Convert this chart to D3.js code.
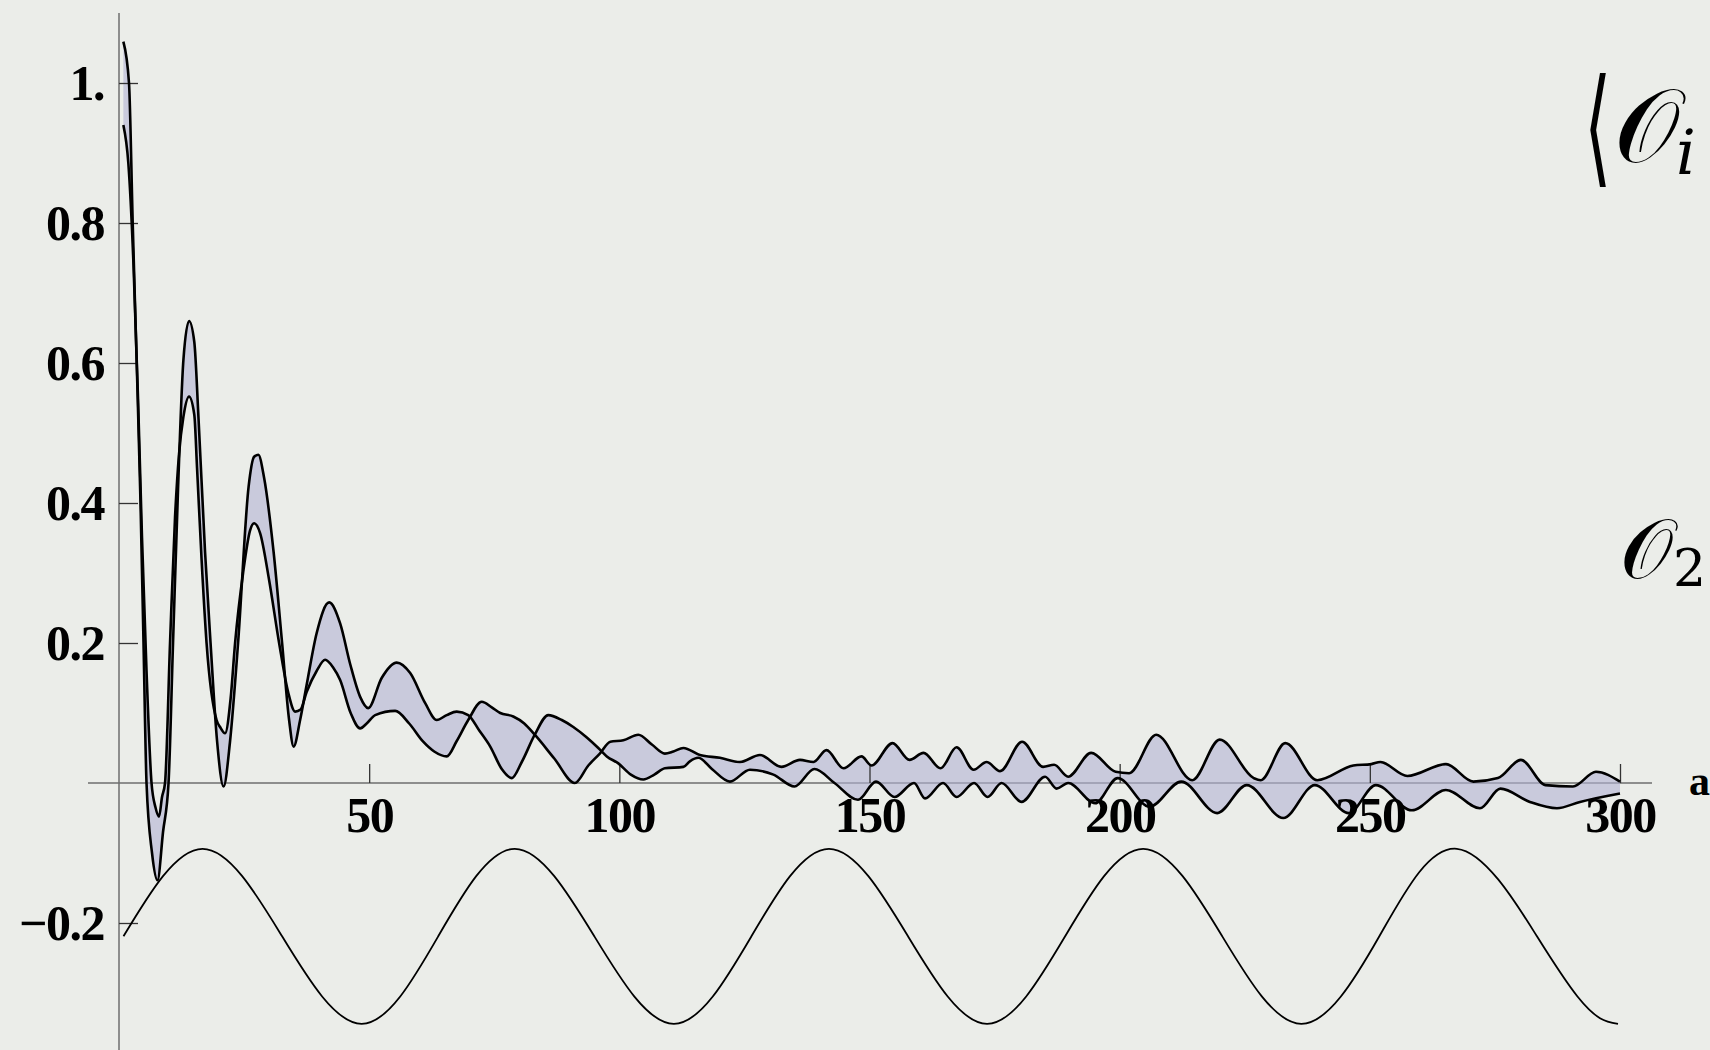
<!DOCTYPE html>
<html>
<head>
<meta charset="utf-8">
<script src="https://cdn.jsdelivr.net/npm/d3@7"></script>
<style>
  html, body { margin: 0; padding: 0; background: #ebede9; overflow: hidden; }
  svg { display: block; }
</style>
</head>
<body>
<script>
// Kurve A (äussere Kurve am Anfang)
var curveA = [[0.87, 1.059], [2.0, 1.0], [2.74, 0.80], [3.54, 0.6], [4.3, 0.40], [4.9, 0.2], [5.5, 0.0],
  [6.6, -0.10], [7.7, -0.139], [8.8, -0.07], [9.9, 0.0], [10.8, 0.2], [11.8, 0.42], [12.87, 0.604],
  [14.0, 0.66], [15.05, 0.63], [15.9, 0.52], [17.2, 0.33], [18.3, 0.2], [19.6, 0.06], [20.9, -0.005],
  [22.2, 0.06], [23.8, 0.2], [25.9, 0.423], [27.0, 0.466], [27.85, 0.469], [29.0, 0.436], [30.9, 0.33],
  [32.6, 0.2], [34.0, 0.09], [34.9, 0.052], [36.2, 0.09], [37.5, 0.14], [39.5, 0.214], [42.0, 0.258],
  [44.2, 0.228], [46.2, 0.17], [48.2, 0.123], [49.8, 0.107], [52.5, 0.15], [55.5, 0.172], [58.2, 0.157],
  [61.2, 0.114], [63.5, 0.09], [65.5, 0.097], [67.5, 0.102], [69.8, 0.097], [72.0, 0.075], [74.2, 0.052],
  [76.5, 0.02], [78.5, 0.007], [80.5, 0.03], [83.1, 0.069], [85.8, 0.097], [88.5, 0.09], [90.8, 0.08],
  [93.5, 0.065], [95.8, 0.05], [97.5, 0.038], [99.8, 0.028], [102.3, 0.012], [104.8, 0.005], [107.0, 0.012],
  [109.1, 0.021], [112.8, 0.023], [114.1, 0.031], [115.8, 0.036], [118.5, 0.02], [122.1, 0.002],
  [126.1, 0.019], [130.8, 0.012], [135.0, -0.005], [139.0, 0.020], [143.0, 0.0], [147.7, -0.024],
  [151.3, 0.002], [155.0, -0.02], [158.9, 0.0], [161.1, -0.022], [164.7, 0.0], [167.4, -0.02],
  [170.9, 0.0], [173.6, -0.02], [176.4, 0.0], [180.4, -0.027], [185.1, 0.009], [187.4, -0.008],
  [189.7, 0.0], [195.1, -0.029], [199.6, 0.007], [206.0, -0.034], [212.3, 0.002], [219.5, -0.043],
  [225.4, -0.003], [232.7, -0.05], [239.0, -0.003], [245.8, -0.043], [251.2, -0.003], [258.4, -0.039],
  [265.2, -0.01], [272.0, -0.036], [276.1, -0.008], [282.0, -0.027], [287.4, -0.036], [292.0, -0.027],
  [300.0, -0.015]];

// Kurve B (innere Kurve am Anfang)
var curveB = [[0.87, 0.94], [1.87, 0.885], [2.9, 0.74], [3.8, 0.55], [4.6, 0.35], [5.5, 0.16], [6.5, 0.0],
  [7.3, -0.035], [8.0, -0.048], [8.6, -0.02], [9.2, 0.0], [10.2, 0.2], [11.2, 0.38], [12.0, 0.47],
  [12.87, 0.523], [14.0, 0.552], [15.05, 0.526], [15.6, 0.45], [16.5, 0.32], [17.5, 0.2], [19.5, 0.09],
  [20.2, 0.08], [21.2, 0.071], [22.3, 0.12], [23.2, 0.2], [24.8, 0.3], [26.2, 0.361], [27.0, 0.371],
  [28.2, 0.357], [30.0, 0.29], [32.0, 0.2], [33.8, 0.13], [35.2, 0.102], [36.3, 0.105], [37.5, 0.13],
  [39.5, 0.16], [41.2, 0.176], [42.8, 0.165], [44.2, 0.147], [46.3, 0.1], [48.2, 0.078], [49.5, 0.085],
  [51.2, 0.097], [55.2, 0.103], [58.0, 0.085], [60.8, 0.059], [63.0, 0.045], [65.5, 0.038], [67.5, 0.06],
  [69.8, 0.09], [72.5, 0.116], [74.5, 0.108], [76.2, 0.1], [78.8, 0.095], [81.0, 0.085], [83.1, 0.069],
  [87.0, 0.035], [91.1, 0.0], [93.8, 0.025], [96.1, 0.042], [98.2, 0.059], [100.8, 0.061], [103.8, 0.069],
  [106.5, 0.055], [109.1, 0.042], [110.8, 0.045], [112.8, 0.05], [116.1, 0.04], [120.1, 0.036],
  [124.1, 0.030], [128.1, 0.040], [132.4, 0.023], [136.1, 0.033], [138.8, 0.030], [141.4, 0.047],
  [144.8, 0.021], [148.4, 0.038], [150.4, 0.025], [154.6, 0.057], [158.0, 0.033], [160.8, 0.043],
  [164.2, 0.021], [167.4, 0.051], [170.8, 0.019], [173.4, 0.03], [176.1, 0.017], [180.5, 0.059],
  [184.7, 0.023], [186.9, 0.026], [189.7, 0.009], [194.3, 0.043], [199.2, 0.016], [201.9, 0.014],
  [207.3, 0.069], [214.5, 0.004], [220.0, 0.062], [226.8, 0.007], [228.2, 0.004], [233.1, 0.057],
  [239.5, 0.004], [246.7, 0.025], [250.3, 0.027], [252.1, 0.03], [257.5, 0.01], [265.2, 0.027],
  [270.7, 0.002], [275.6, 0.007], [280.2, 0.033], [285.1, -0.003], [290.6, -0.005], [295.2, 0.016],
  [300.0, 0.002]];

var waveX = [0.9, 16.7, 32.6, 48.5, 63.8, 79.1, 95.0, 110.9, 126.4, 141.9, 157.7, 173.5,
  189.1, 204.7, 220.5, 236.3, 251.9, 267.4, 283.4, 291.5, 296.0, 299.6];
var waveY = [-0.219, -0.094, -0.219, -0.344, -0.219, -0.094, -0.219, -0.344, -0.219, -0.094,
  -0.219, -0.344, -0.219, -0.094, -0.219, -0.344, -0.219, -0.094, -0.219, -0.305, -0.336, -0.344];

// Achsenbeschriftung
var xTicks = [50, 100, 150, 200, 250, 300];
var yTicks = [-0.2, 0.2, 0.4, 0.6, 0.8, 1];
var yTickLabels = ["\u22120.2", "0.2", "0.4", "0.6", "0.8", "1."];

var width = 1710;
var height = 1050;

var svg = d3.select("body").append("svg")
  .attr("width", width)
  .attr("height", height);

// Skalen
var x = d3.scaleLinear().domain([0, 300]).range([119, 1620]);
var y = d3.scaleLinear().domain([0, 1]).range([783, 83]);

var axisColor = "#6e6e6e";
var labelFont = "'Liberation Serif', 'Times New Roman', serif";

// Achsenlinien
svg.append("line")
  .attr("x1", x(-6.2)).attr("x2", x(306.4))
  .attr("y1", y(0)).attr("y2", y(0))
  .attr("stroke", axisColor).attr("stroke-width", 1.5);

svg.append("line")
  .attr("x1", x(0)).attr("x2", x(0))
  .attr("y1", y(1.1)).attr("y2", height)
  .attr("stroke", axisColor).attr("stroke-width", 1.5);

// Band zwischen den Kurven
var line = d3.line()
  .x(function(d) { return x(d[0]); })
  .y(function(d) { return y(d[1]); })
  .curve(d3.curveMonotoneX);

var pathA = line(curveA);
var pathB = line(curveB.slice().reverse());

svg.append("path")
  .attr("d", pathA + "L" + pathB.slice(1) + "Z")
  .attr("fill", "#b3b3d3")
  .attr("fill-opacity", 0.6)
  .attr("stroke", "none");

// x-Achse (Ticks nach oben)
svg.append("g")
  .attr("transform", "translate(0," + y(0) + ")")
  .call(d3.axisBottom(x).tickValues(xTicks).tickSize(-19).tickPadding(13).tickFormat(d3.format("d")));

// y-Achse (Ticks nach rechts, Labels links)
svg.append("g")
  .attr("transform", "translate(" + x(0) + ",0)")
  .call(d3.axisLeft(y).tickValues(yTicks).tickSize(-19).tickPadding(15)
    .tickFormat(function(d, i) { return yTickLabels[i]; }));

svg.selectAll(".domain").remove();
svg.selectAll(".tick line").attr("stroke", "#333").attr("stroke-width", 1.3);
svg.selectAll(".tick text")
  .attr("font-family", labelFont)
  .attr("font-weight", "bold")
  .attr("font-size", "50px")
  .attr("letter-spacing", "-1.5px")
  .attr("fill", "#000");

// Kurven
svg.append("path")
  .attr("d", line(curveA))
  .attr("fill", "none")
  .attr("stroke", "#000")
  .attr("stroke-width", 2.6)
  .attr("stroke-linejoin", "round");

svg.append("path")
  .attr("d", line(curveB))
  .attr("fill", "none")
  .attr("stroke", "#000")
  .attr("stroke-width", 2.6)
  .attr("stroke-linejoin", "round");

// Welle
var wave = waveX.map(function(v, i) { return [v, waveY[i]]; });

svg.append("path")
  .attr("d", d3.line()
    .x(function(d) { return x(d[0]); })
    .y(function(d) { return y(d[1]); })
    .curve(d3.curveNatural)(wave))
  .attr("fill", "none")
  .attr("stroke", "#000")
  .attr("stroke-width", 1.8);

// Beschriftungen rechts (teilweise abgeschnitten)
var mathFont = "'DejaVu Serif', 'Liberation Serif', serif";

// schmale Klammer
svg.append("text")
  .attr("transform", "translate(1584,170) scale(0.55,1)")
  .attr("font-family", "'DejaVu Sans', sans-serif")
  .attr("font-size", "128px")
  .attr("fill", "#000")
  .text("\u27E8");

var t1 = svg.append("text")
  .attr("x", 1614)
  .attr("y", 162)
  .attr("font-family", mathFont)
  .attr("fill", "#000");
t1.append("tspan").attr("font-size", "104px").text("\uD835\uDCAA");
t1.append("tspan").attr("font-size", "62px").attr("font-style", "italic").attr("dx", -4).attr("dy", 12).text("i");

var t2 = svg.append("text")
  .attr("x", 1620)
  .attr("y", 578)
  .attr("font-family", mathFont)
  .attr("font-size", "84px")
  .attr("fill", "#000");
t2.append("tspan").text("\uD835\uDCAA");
t2.append("tspan").attr("font-size", "52px").attr("dy", 8).text("2");

svg.append("text")
  .attr("x", 1689)
  .attr("y", 795)
  .attr("font-family", labelFont)
  .attr("font-weight", "bold")
  .attr("font-size", "42px")
  .attr("fill", "#000")
  .text("a");
</script>
</body>
</html>
